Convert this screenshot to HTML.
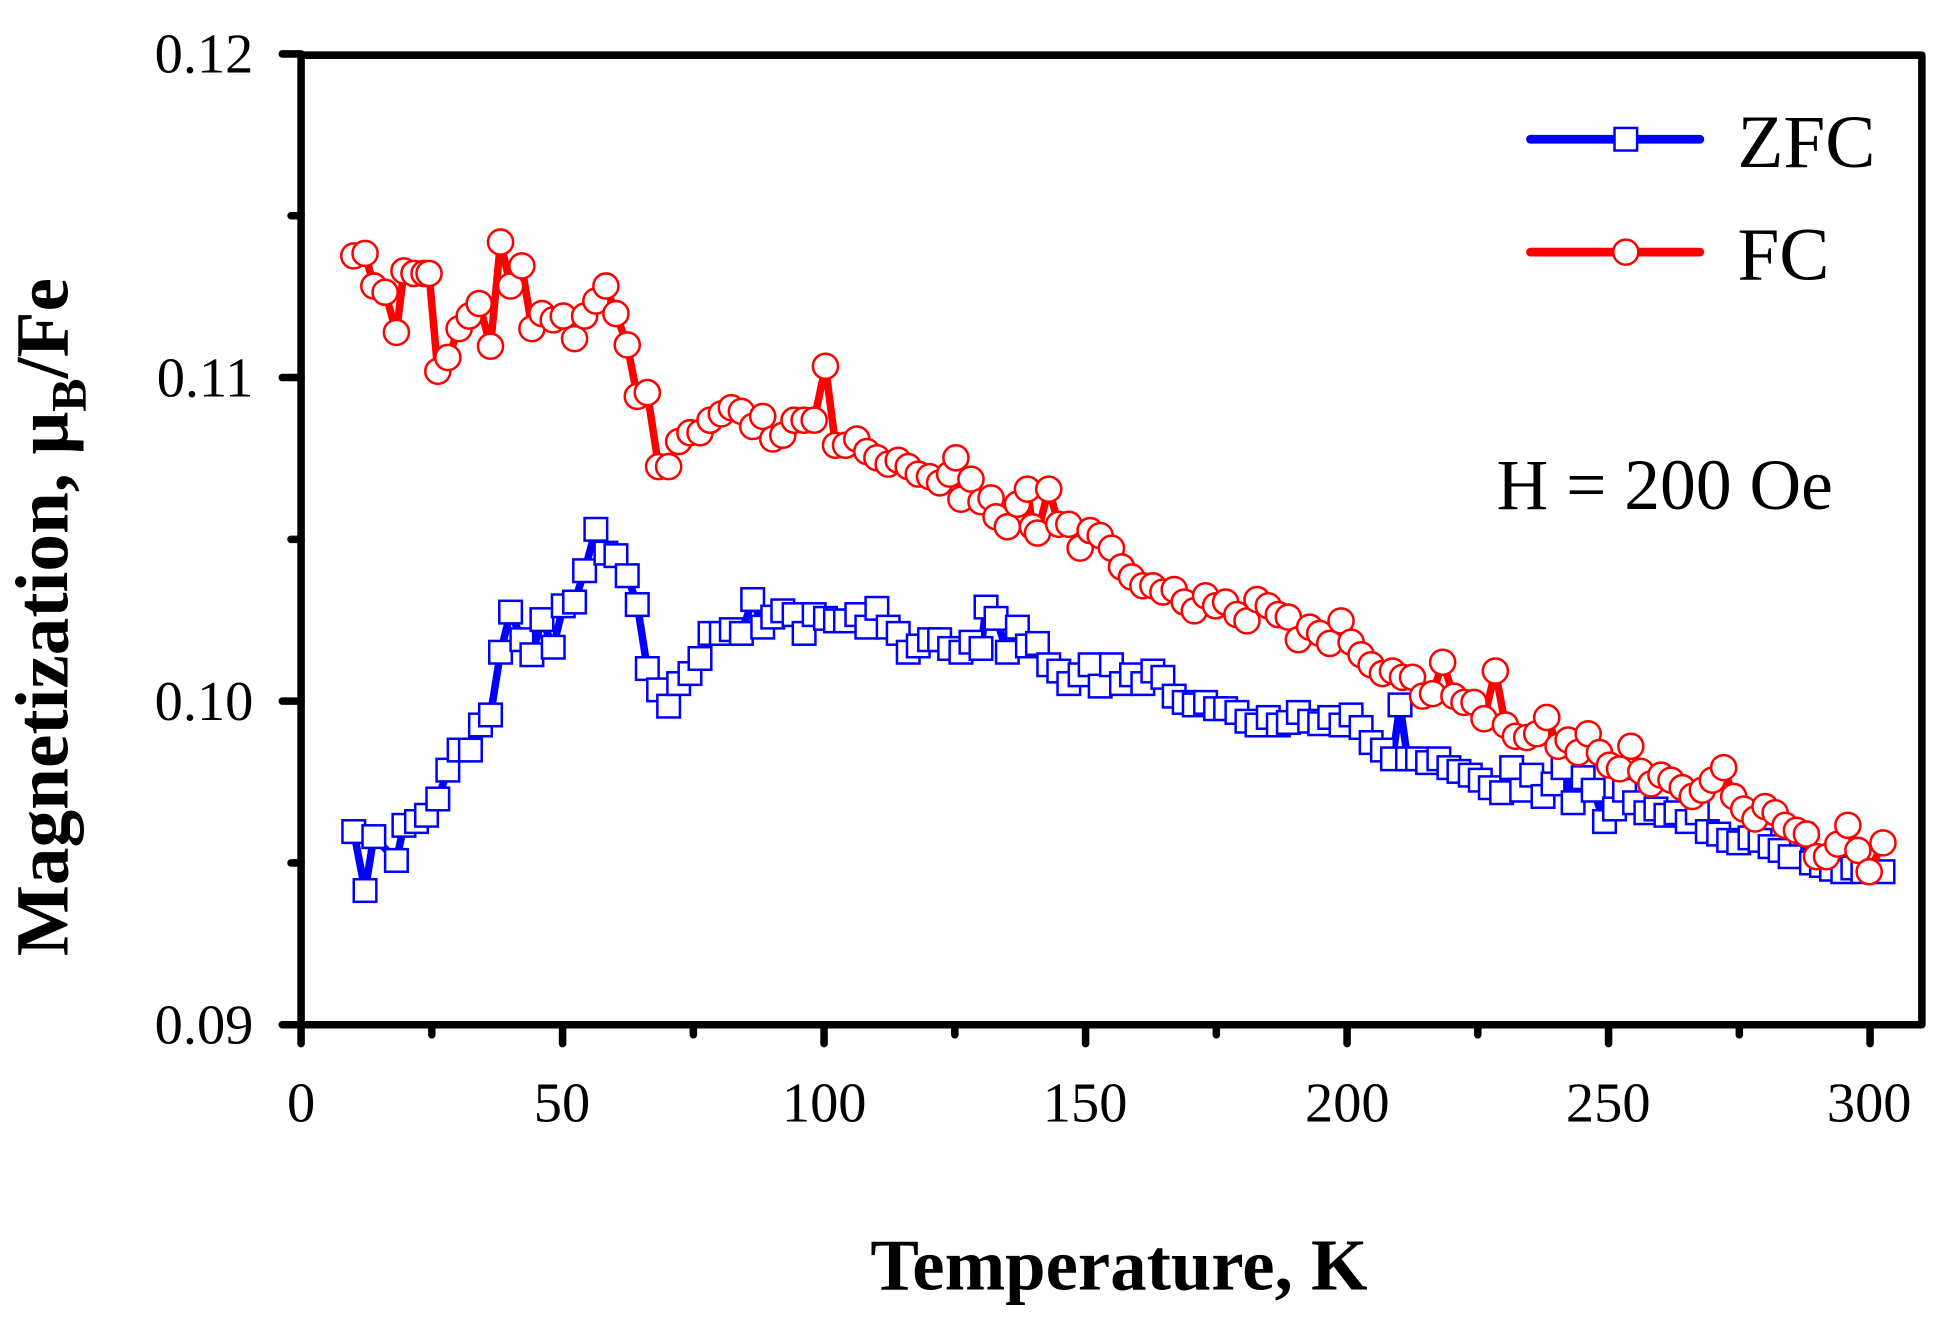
<!DOCTYPE html>
<html><head><meta charset="utf-8"><style>html,body{margin:0;padding:0;background:#fff}svg{display:block}</style></head>
<body>
<svg width="1957" height="1317" viewBox="0 0 1560 1050" preserveAspectRatio="none" xmlns="http://www.w3.org/2000/svg" font-family="'Liberation Serif', serif">
<g id="ticks" stroke="#000" stroke-width="6" stroke-linecap="round"></g>
<rect x="240" y="44" width="1292" height="773" fill="none" stroke="#000" stroke-width="6" stroke-linejoin="round"/>
<g font-size="45" text-anchor="end">
<text x="202" y="832">0.09</text><text x="202" y="574">0.10</text><text x="202" y="316">0.11</text><text x="202" y="58">0.12</text>
</g>
<g font-size="45" text-anchor="middle">
<text x="240" y="894">0</text><text x="448" y="894">50</text><text x="657" y="894">100</text><text x="865" y="894">150</text><text x="1074" y="894">200</text><text x="1282" y="894">250</text><text x="1490" y="894">300</text>
</g>
<text x="892" y="1028" font-size="58" font-weight="bold" text-anchor="middle">Temperature, K</text>
<text transform="translate(54,492) rotate(-90)" font-size="60" font-weight="bold" text-anchor="middle">Magnetization, μ<tspan font-size="40" dy="14">B</tspan><tspan dy="-14">/Fe</tspan></text>
<text x="1193" y="406" font-size="57">H = 200 Oe</text>
<line x1="1220" y1="111" x2="1355" y2="111" stroke="#00f" stroke-width="7" stroke-linecap="round"/>
<rect x="1287" y="102" width="18" height="18" fill="#fff" stroke="#00f" stroke-width="2"/>
<text x="1385" y="133" font-size="60">ZFC</text>
<line x1="1220" y1="201" x2="1355" y2="201" stroke="#f00" stroke-width="7" stroke-linecap="round"/>
<circle cx="1296" cy="201" r="10" fill="#fff" stroke="#f00" stroke-width="2"/>
<text x="1385" y="223" font-size="60">FC</text>
<g id="series"></g>
</svg>
<script>
var ns="http://www.w3.org/2000/svg";
var t=document.getElementById("ticks");
function ln(x1,y1,x2,y2){var l=document.createElementNS(ns,"line");l.setAttribute("x1",x1);l.setAttribute("y1",y1);l.setAttribute("x2",x2);l.setAttribute("y2",y2);t.appendChild(l);}
for(var k=0;k<=300;k+=25){var x=240+k*4.169;ln(x,817,x,817+(k%50==0?15:8));}
for(var i=0;i<=6;i++){var y=817-i*129;ln(240,y,240-(i%2==0?15:8),y);}
var zfc=[[282,663],[291,710],[298,667],[316,686],[322,658],[332,655],[340,650],[349,637],[357,614],[366,598],[375,598],[383,578],[391,570],[399,520],[407,488],[416,510],[424,522],[432,494],[441,516],[449,483],[458,480],[466,455],[475,422],[483,441],[491,443],[500,459],[508,482],[516,533],[525,550],[533,563],[541,545],[550,537],[558,525],[566,505],[575,505],[583,502],[591,505],[600,478],[608,500],[616,492],[624,487],[633,490],[641,505],[649,490],[658,493],[666,495],[674,495],[683,490],[691,500],[699,485],[708,500],[716,505],[724,520],[732,515],[741,510],[749,510],[757,517],[766,520],[774,512],[782,517],[786,484],[794,493],[803,520],[811,500],[819,515],[827,513],[836,530],[844,535],[852,545],[861,538],[869,530],[877,547],[886,530],[894,545],[902,538],[911,545],[919,535],[927,540],[936,555],[944,560],[952,562],[961,560],[969,565],[977,565],[986,568],[994,575],[1002,578],[1011,572],[1019,578],[1027,576],[1035,568],[1044,575],[1052,577],[1060,572],[1069,578],[1077,570],[1085,580],[1093,592],[1102,598],[1110,605],[1116,562],[1122,605],[1130,605],[1138,608],[1147,605],[1155,612],[1163,615],[1172,618],[1180,622],[1188,628],[1197,632],[1205,612],[1213,630],[1221,618],[1230,635],[1238,625],[1246,612],[1254,640],[1262,620],[1270,630],[1279,655],[1287,645],[1295,630],[1303,640],[1312,648],[1320,645],[1328,650],[1336,648],[1345,655],[1353,648],[1361,663],[1370,665],[1378,670],[1386,672],[1395,668],[1403,670],[1411,675],[1419,678],[1427,683],[1436,665],[1444,688],[1452,690],[1460,693],[1469,695],[1477,692],[1485,695],[1501,695]];
var fc=[[282,204],[291,202],[298,228],[307,233],[316,265],[322,216],[330,218],[338,218],[342,218],[349,296],[357,285],[366,262],[374,252],[382,242],[391,276],[399,193],[407,228],[416,212],[424,262],[432,250],[441,255],[449,252],[458,270],[466,252],[475,240],[483,228],[491,250],[500,275],[508,316],[516,313],[525,372],[533,372],[541,352],[550,345],[558,345],[566,335],[575,330],[583,325],[591,328],[600,340],[608,332],[616,350],[624,347],[633,335],[641,335],[649,335],[658,292],[666,355],[674,355],[683,350],[691,360],[699,365],[708,370],[716,367],[724,372],[732,378],[741,380],[749,385],[757,378],[762,365],[766,398],[774,382],[782,400],[790,397],[794,412],[803,420],[811,402],[819,390],[823,420],[827,425],[836,390],[844,418],[852,418],[861,437],[869,423],[877,427],[886,437],[894,452],[902,460],[911,467],[919,467],[927,472],[936,470],[944,480],[952,487],[961,475],[969,483],[977,480],[986,490],[994,495],[1002,478],[1011,483],[1019,490],[1027,492],[1035,510],[1044,500],[1052,505],[1060,513],[1069,495],[1077,512],[1085,522],[1093,530],[1102,537],[1110,535],[1118,540],[1126,540],[1134,555],[1142,553],[1150,528],[1159,555],[1167,560],[1175,560],[1183,573],[1192,535],[1200,578],[1208,587],[1217,588],[1225,585],[1233,572],[1242,595],[1250,590],[1258,600],[1266,585],[1275,600],[1283,610],[1291,613],[1300,595],[1308,615],[1316,625],[1324,618],[1332,622],[1341,628],[1349,635],[1357,630],[1365,622],[1374,612],[1382,635],[1390,645],[1399,653],[1407,643],[1415,648],[1423,658],[1432,662],[1440,665],[1448,683],[1456,683],[1465,673],[1473,658],[1481,678],[1490,695],[1501,672]];
var s=document.getElementById("series");
function series(d,col,sq){var p=document.createElementNS(ns,"polyline");p.setAttribute("points",d.map(function(a){return a.join(",")}).join(" "));p.setAttribute("fill","none");p.setAttribute("stroke",col);p.setAttribute("stroke-width","6");p.setAttribute("stroke-linejoin","round");s.appendChild(p);
d.forEach(function(a){var m;if(sq){m=document.createElementNS(ns,"rect");m.setAttribute("x",a[0]-9);m.setAttribute("y",a[1]-9);m.setAttribute("width",18);m.setAttribute("height",18);}else{m=document.createElementNS(ns,"circle");m.setAttribute("cx",a[0]);m.setAttribute("cy",a[1]);m.setAttribute("r",10);}m.setAttribute("fill","#fff");m.setAttribute("stroke",col);m.setAttribute("stroke-width","2");s.appendChild(m);});}
series(zfc,"#00f",true);series(fc,"#f00",false);
</script>
</body></html>
